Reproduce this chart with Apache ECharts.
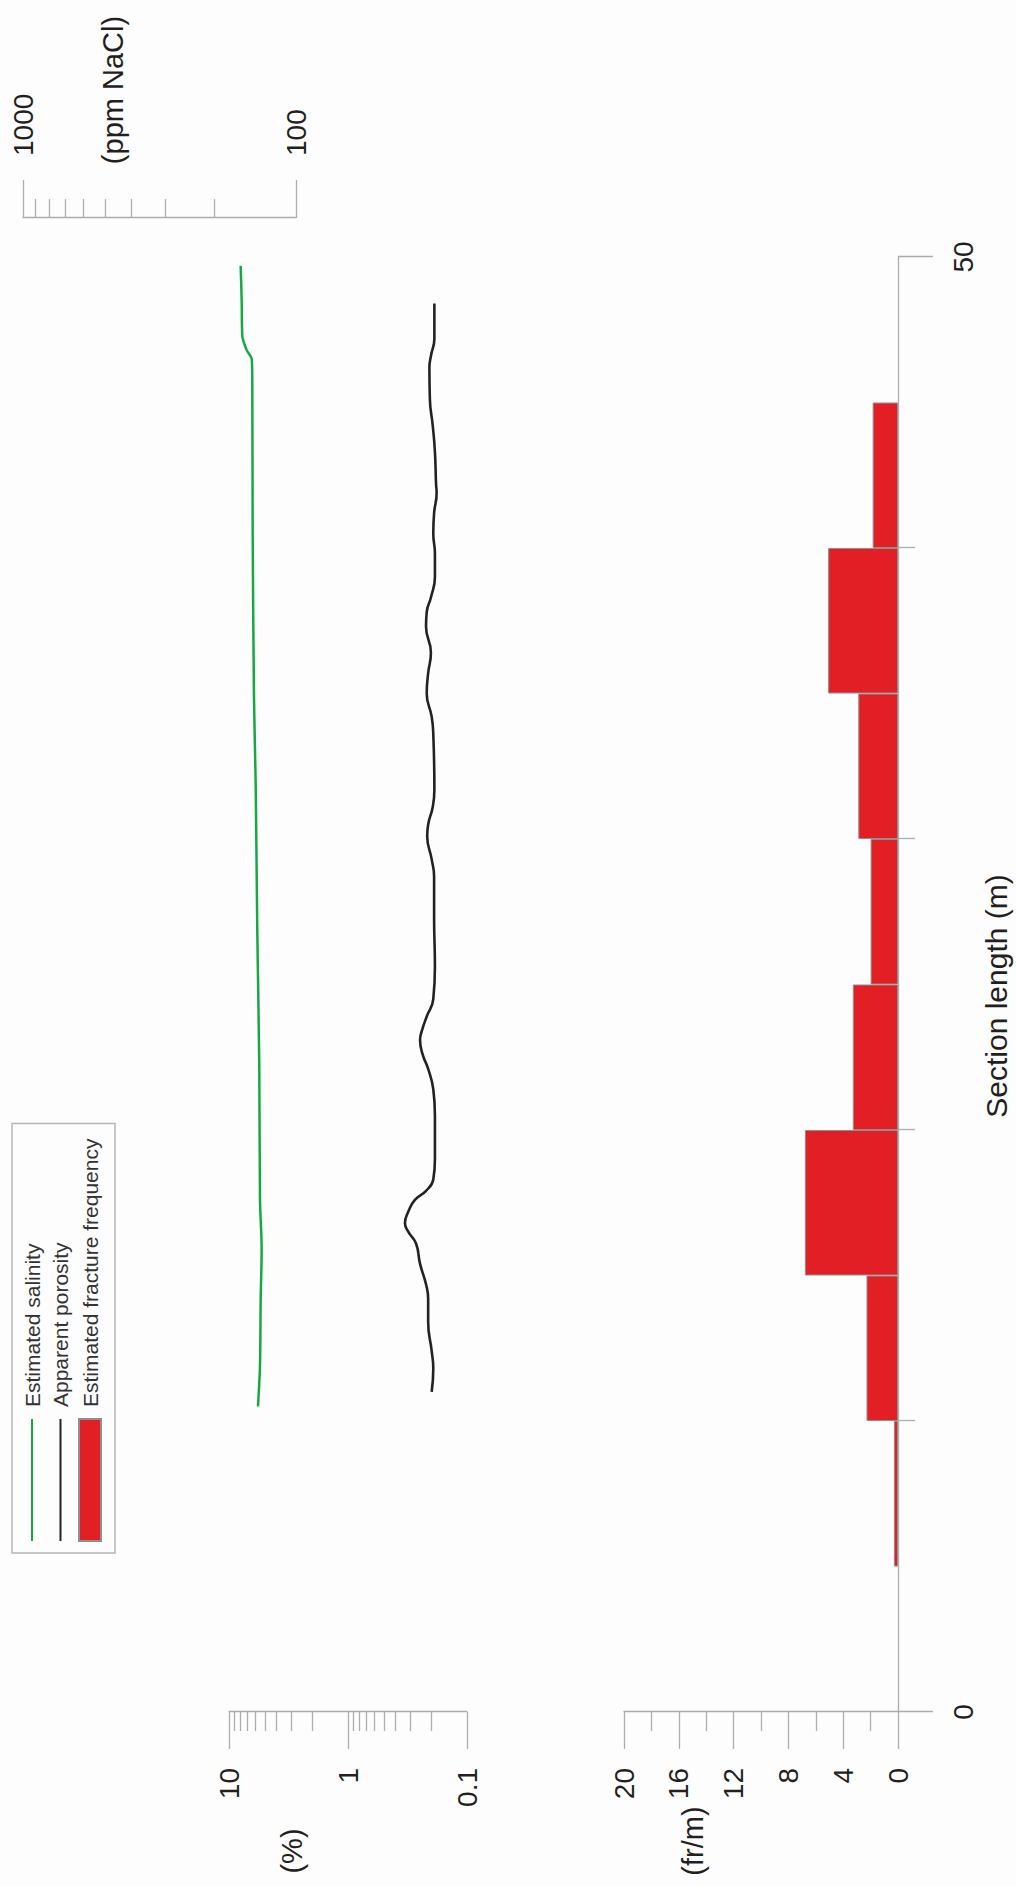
<!DOCTYPE html>
<html>
<head>
<meta charset="utf-8">
<script src="https://cdn.jsdelivr.net/npm/echarts@6/dist/echarts.min.js"></script>
<style>
  html, body { margin: 0; padding: 0; background: #fdfdfd; }
  body { width: 1016px; height: 1887px; overflow: hidden; position: relative; }
  /* chart is laid out landscape and turned a quarter turn, like the figure */
  #chart {
    position: absolute; left: 0; top: 0;
    width: 1887px; height: 1016px;
    transform-origin: 0 0;
    transform: translate(0, 1887px) rotate(-90deg);
  }
</style>
</head>
<body>
<div id="chart"></div>
<script>
// section length (m) / estimated salinity (ppm NaCl)
const salinityPos = [10.5, 11.9, 14.2, 15.9, 17.6, 22.2, 26.8, 31.9, 34.8, 40.5, 45.8, 46.5, 46.8, 47.3, 48.5, 49.7]
const salinityVal = [137.8, 135.5, 134.7, 133.6, 135.5, 136.3, 138.6, 140.5, 142.5, 144.1, 144.6, 145.3, 151.6, 157.3, 158.1, 159.5]

// section length (m) / apparent porosity (%)
const porosityPos = [11.0, 11.8, 12.4, 13.4, 14.2, 14.7, 15.4, 16.1, 16.5, 16.8, 17.2, 17.6, 17.9, 18.3, 19.0, 20.5,
  21.4, 22.1, 22.6, 23.1, 23.4, 23.9, 24.5, 25.6, 27.3, 28.7, 29.3, 30.1, 30.5, 31.1, 31.7, 33.6, 34.2, 35.0, 35.7,
  36.4, 37.3, 37.8, 38.3, 39.0, 39.8, 40.5, 41.2, 41.9, 42.2, 43.3, 44.2, 45.1, 46.2, 46.6, 47.2, 48.4]
const porosityVal = [0.198, 0.192, 0.198, 0.212, 0.212, 0.221, 0.248, 0.268, 0.311, 0.332, 0.311, 0.274, 0.222, 0.192, 0.186, 0.186,
  0.192, 0.212, 0.236, 0.248, 0.240, 0.218, 0.192, 0.186, 0.189, 0.189, 0.198, 0.216, 0.212, 0.194, 0.188, 0.192, 0.198, 0.218, 0.212,
  0.201, 0.221, 0.218, 0.201, 0.186, 0.186, 0.192, 0.189, 0.180, 0.182, 0.186, 0.194, 0.205, 0.207, 0.201, 0.188, 0.188]

// 5 m bins / estimated fracture frequency (fr/m)
const fractureBins = ['0-5', '5-10', '10-15', '15-20', '20-25', '25-30', '30-35', '35-40', '40-45', '45-50']
const fractureVal = [null, 0.3, 2.3, 6.8, 3.3, 2.0, 2.9, 5.1, 1.85, null]

// tick values
const sectionTicks = [0, 50]
const salinityTicks = [100, 1000]
const salinityMinor = [200, 300, 400, 500, 600, 700, 800, 900]
const porosityTicks = [0.1, 1, 10]
const porosityMinor = [0.2, 0.3, 0.4, 0.5, 0.6, 0.7, 0.8, 0.9, 2, 3, 4, 5, 6, 7, 8, 9]

const FONT = "'Liberation Sans', Arial, sans-serif"
const INK = '#231f20'
const AXIS = '#adadad'
const num = v => String(Number((+v).toPrecision(6)))
const pairs = (xs, ys) => xs.map((x, i) => [x, ys[i]])

const chart = echarts.init(document.getElementById('chart'), null, { renderer: 'svg' })

const lineStyle = { color: AXIS, width: 1.3 }
const hiddenX = idx => ({ type: 'value', gridIndex: idx, min: 0, max: 50, show: false })
const logAxis = (grid, min, max, pos, extra) => Object.assign({
  type: 'log',
  gridIndex: grid,
  min,
  max,
  position: pos,
  splitLine: { show: false }
}, extra)

// unit labels next to the value scales
const unitText = (text, x, y) => ({
  type: 'text',
  x,
  y,
  style: { text, fontFamily: FONT, fontSize: 29, fill: INK, align: 'center', verticalAlign: 'middle' }
})

chart.setOption({
  backgroundColor: '#fdfdfd',
  animation: false,
  textStyle: { fontFamily: FONT, color: INK },
  legend: {
    orient: 'vertical',
    left: 334,
    top: 12,
    padding: [9, 15, 13, 11],
    itemWidth: 122,
    itemHeight: 22,
    itemGap: 6.5,
    borderColor: '#b5b5b5',
    borderWidth: 1.5,
    textStyle: { fontFamily: FONT, fontSize: 21, lineHeight: 22, color: '#333', padding: [0, 0, 0, 7] },
    data: [
      { name: 'Estimated salinity', itemStyle: { opacity: 0 } },
      { name: 'Apparent porosity', itemStyle: { opacity: 0 } },
      { name: 'Estimated fracture frequency', icon: 'rect' }
    ]
  },
  graphic: [
    unitText('(ppm NaCl)', 1797, 113),
    unitText('(%)', 36, 292),
    unitText('(fr/m)', 46, 693)
  ],
  grid: [
    { left: 175, right: 257, top: 23, height: 273, outerBoundsMode: 'none' },
    { left: 175, right: 257, top: 229, height: 238, outerBoundsMode: 'none' },
    { left: 175, right: 257, top: 624, height: 274, outerBoundsMode: 'none' }
  ],
  xAxis: [
    hiddenX(0),
    hiddenX(1),
    {
      type: 'value',
      gridIndex: 2,
      min: 0,
      max: 50,
      interval: 50,
      name: 'Section length (m)',
      nameLocation: 'middle',
      nameGap: 83,
      nameTextStyle: { fontFamily: FONT, fontSize: 30, color: INK, padding: [0, 23, 0, 0] },
      axisLine: { onZero: false, lineStyle },
      axisTick: { customValues: sectionTicks, length: 35, lineStyle },
      minorTick: { show: true, splitNumber: 5, length: 17, lineStyle },
      axisLabel: { customValues: sectionTicks, margin: 51, fontSize: 28, color: INK, formatter: num },
      splitLine: { show: false }
    },
    {
      type: 'category',
      gridIndex: 2,
      data: fractureBins,
      boundaryGap: true,
      show: false
    }
  ],
  yAxis: [
    logAxis(0, 100, 1000, 'right', {
      offset: 39,
      axisLine: { show: true, onZero: false, lineStyle },
      axisTick: { customValues: salinityTicks, length: 38, lineStyle },
      axisLabel: { customValues: salinityTicks, margin: 62, fontSize: 28, color: INK, formatter: num }
    }),
    logAxis(0, 100, 1000, 'right', {
      offset: 39,
      axisLine: { show: false, onZero: false },
      axisTick: { customValues: salinityMinor, length: 19, lineStyle },
      axisLabel: { show: false }
    }),
    logAxis(1, 0.1, 10, 'left', {
      axisLine: { show: true, onZero: false, lineStyle },
      axisTick: { customValues: porosityTicks, length: 37, lineStyle },
      axisLabel: { customValues: porosityTicks, margin: 56, fontSize: 28, color: INK, formatter: num }
    }),
    logAxis(1, 0.1, 10, 'left', {
      axisLine: { show: false, onZero: false },
      axisTick: { customValues: porosityMinor, length: 19, lineStyle },
      axisLabel: { show: false }
    }),
    {
      type: 'value',
      gridIndex: 2,
      min: 0,
      max: 20,
      interval: 4,
      position: 'left',
      axisLine: { show: true, onZero: false, lineStyle },
      axisTick: { length: 37, lineStyle },
      minorTick: { show: true, splitNumber: 2, length: 19, lineStyle },
      axisLabel: { margin: 56, fontSize: 28, color: INK, formatter: num },
      splitLine: { show: false }
    }
  ],
  series: [
    {
      name: 'Estimated salinity',
      type: 'line',
      xAxisIndex: 0,
      yAxisIndex: 0,
      data: pairs(salinityPos, salinityVal),
      symbol: 'none',
      smooth: 0.3,
      color: '#17a844',
      lineStyle: { color: '#17a844', width: 2.5 }
    },
    {
      name: 'Apparent porosity',
      type: 'line',
      xAxisIndex: 1,
      yAxisIndex: 2,
      data: pairs(porosityPos, porosityVal),
      symbol: 'none',
      smooth: 0.5,
      color: '#222222',
      lineStyle: { color: '#222222', width: 2.6 }
    },
    {
      name: 'Estimated fracture frequency',
      type: 'bar',
      xAxisIndex: 3,
      yAxisIndex: 4,
      data: fractureVal,
      barCategoryGap: '0%',
      itemStyle: { color: '#e11f24', borderColor: '#8f8f8f', borderWidth: 1 }
    }
  ]
})
</script>
</body>
</html>
